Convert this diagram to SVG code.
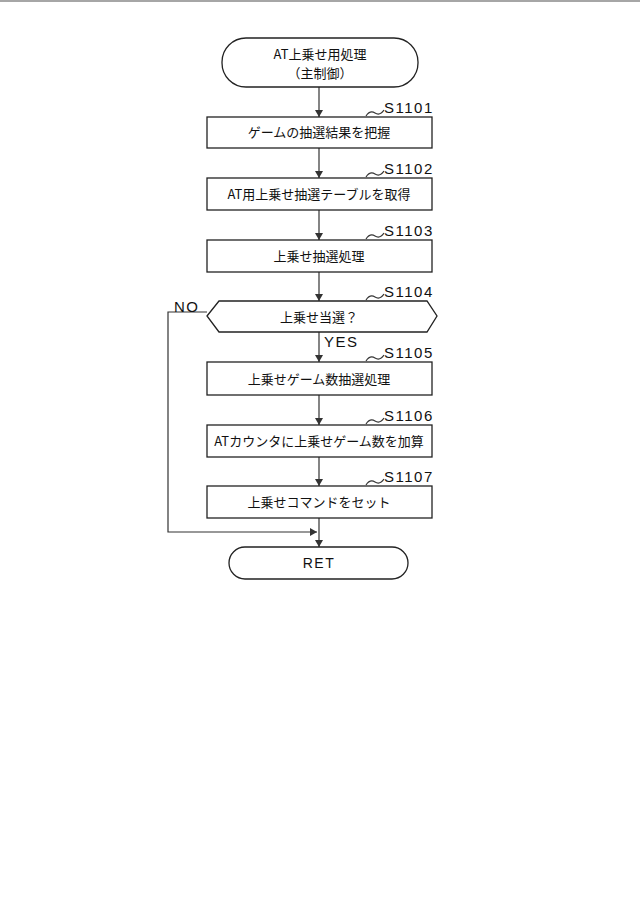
<svg xmlns="http://www.w3.org/2000/svg" width="640" height="908" viewBox="0 0 640 908">
<style>
.b{fill:#fff;stroke:#222;stroke-width:1.3}
.t{font-family:"Noto Sans CJK JP","Liberation Sans",sans-serif;font-size:13px;fill:#111;text-anchor:middle}
.s{font-family:"Liberation Sans",sans-serif;font-size:15px;fill:#111;letter-spacing:1.5px}
.c{fill:none;stroke:#333;stroke-width:1.2}
</style>
<defs><marker id="a" markerWidth="8" markerHeight="8" refX="7" refY="4" orient="auto" markerUnits="userSpaceOnUse"><path d="M0,0 L7,4 L0,8 Z" fill="#333"/></marker></defs>
<rect width="640" height="908" fill="#fff"/>
<line x1="0" y1="1" x2="640" y2="1" stroke="#888" stroke-width="1.5"/>
<g id="connectors">
<line class="c" x1="319" y1="87" x2="319" y2="117" marker-end="url(#a)"/>
<line class="c" x1="319" y1="148" x2="319" y2="178" marker-end="url(#a)"/>
<line class="c" x1="319" y1="210" x2="319" y2="240" marker-end="url(#a)"/>
<line class="c" x1="319" y1="272" x2="319" y2="301" marker-end="url(#a)"/>
<line class="c" x1="319" y1="332" x2="319" y2="362" marker-end="url(#a)"/>
<line class="c" x1="319" y1="395" x2="319" y2="425" marker-end="url(#a)"/>
<line class="c" x1="319" y1="457" x2="319" y2="486" marker-end="url(#a)"/>
<line class="c" x1="319" y1="518" x2="319" y2="547" marker-end="url(#a)"/>
<polyline class="c" points="207,312 168,312 168,532 317,532" marker-end="url(#a)"/>
<text class="s" x="174" y="312">NO</text>
<text class="s" x="324" y="347">YES</text>
</g>
<g id="start"><rect class="b" x="222" y="38" width="196" height="49" rx="24"/><text class="t" x="320" y="59">AT上乗せ用処理</text><text class="t" x="320" y="78">（主制御）</text></g>
<g id="S1101"><rect class="b" x="207" y="117" width="225" height="31"/><text class="t" x="319" y="137">ゲームの抽選結果を把握</text><path class="c" d="M366,116 q4,-6 9,-3 t9,-3"/><text class="s" x="384" y="113">S1101</text></g>
<g id="S1102"><rect class="b" x="207" y="178" width="225" height="32"/><text class="t" x="319" y="199">AT用上乗せ抽選テーブルを取得</text><path class="c" d="M366,177 q4,-6 9,-3 t9,-3"/><text class="s" x="384" y="174">S1102</text></g>
<g id="S1103"><rect class="b" x="207" y="240" width="225" height="32"/><text class="t" x="319" y="261">上乗せ抽選処理</text><path class="c" d="M366,239 q4,-6 9,-3 t9,-3"/><text class="s" x="384" y="236">S1103</text></g>
<g id="S1104"><polygon class="b" points="207,316 219,301 427,301 437,316 427,332 219,332"/><text class="t" x="319" y="322">上乗せ当選？</text><path class="c" d="M366,300 q4,-6 9,-3 t9,-3"/><text class="s" x="384" y="297">S1104</text></g>
<g id="S1105"><rect class="b" x="207" y="362" width="225" height="33"/><text class="t" x="319" y="384">上乗せゲーム数抽選処理</text><path class="c" d="M366,361 q4,-6 9,-3 t9,-3"/><text class="s" x="384" y="358">S1105</text></g>
<g id="S1106"><rect class="b" x="207" y="425" width="225" height="32"/><text class="t" x="319" y="446">ATカウンタに上乗せゲーム数を加算</text><path class="c" d="M366,424 q4,-6 9,-3 t9,-3"/><text class="s" x="384" y="421">S1106</text></g>
<g id="S1107"><rect class="b" x="207" y="486" width="225" height="32"/><text class="t" x="319" y="507">上乗せコマンドをセット</text><path class="c" d="M366,485 q4,-6 9,-3 t9,-3"/><text class="s" x="384" y="482">S1107</text></g>
<g id="ret"><rect class="b" x="229" y="547" width="179" height="32" rx="16"/><text class="t" x="319" y="568" style="font-family:'Liberation Sans',sans-serif;font-size:14px;letter-spacing:1.5px">RET</text></g>
</svg>
